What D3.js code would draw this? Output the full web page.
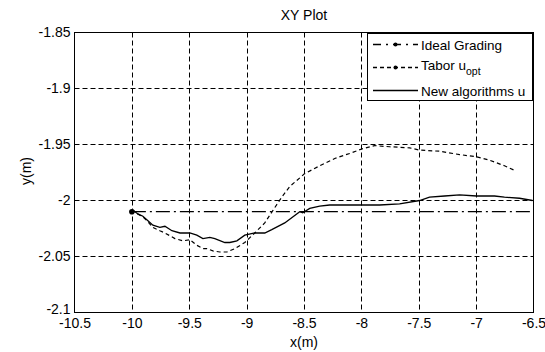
<!DOCTYPE html>
<html>
<head>
<meta charset="utf-8">
<script src="https://cdn.jsdelivr.net/npm/d3@7/dist/d3.min.js"></script>
<style>
  html, body { margin: 0; padding: 0; background: #fff; }
  svg { display: block; font-family: "Liberation Sans", Arial, sans-serif; }
</style>
</head>
<body>
<svg id="chart" width="545" height="352"></svg>
<script>
// ---- data ----
const xTicks = [-10.5, -10, -9.5, -9, -8.5, -8, -7.5, -7, -6.5];
const yTicks = [-1.85, -1.9, -1.95, -2, -2.05, -2.1];
const xGrid = [-10, -9.5, -9, -8.5, -8, -7.5, -7];
const yGrid = [-1.9, -1.95, -2, -2.05];

const idealX = [-10, -6.5];
const idealY = [-2.01, -2.01];

const taborX = [-10, -9.95, -9.9, -9.86, -9.817, -9.756, -9.712, -9.625, -9.555, -9.495, -9.434, -9.381, -9.347, -9.294, -9.233, -9.172, -9.103, -9.016, -8.929, -8.842, -8.772, -8.694, -8.624, -8.494, -8.363, -8.232, -8.102, -7.997, -7.884, -7.754, -7.579, -7.493, -7.319, -7.144, -6.996, -6.883, -6.753, -6.666];
const taborY = [-2.008, -2.012, -2.015, -2.019, -2.024, -2.027, -2.029, -2.034, -2.036, -2.035, -2.040, -2.043, -2.043, -2.045, -2.046, -2.046, -2.043, -2.0375, -2.029, -2.020, -2.009, -1.997, -1.9875, -1.976, -1.969, -1.9625, -1.958, -1.954, -1.951, -1.952, -1.953, -1.955, -1.956, -1.959, -1.961, -1.964, -1.969, -1.973];

const newX = [-10, -9.947, -9.904, -9.86, -9.817, -9.756, -9.712, -9.651, -9.581, -9.495, -9.434, -9.381, -9.32, -9.277, -9.19, -9.146, -9.085, -9.016, -8.929, -8.842, -8.781, -8.668, -8.537, -8.511, -8.45, -8.363, -8.276, -8.102, -7.841, -7.667, -7.493, -7.406, -7.275, -7.144, -6.996, -6.84, -6.753, -6.622, -6.509];
const newY = [-2.008, -2.012, -2.014, -2.018, -2.022, -2.024, -2.023, -2.027, -2.029, -2.029, -2.031, -2.034, -2.033, -2.034, -2.0375, -2.0375, -2.036, -2.031, -2.029, -2.029, -2.026, -2.020, -2.010, -2.011, -2.007, -2.005, -2.004, -2.004, -2.004, -2.003, -2.000, -1.997, -1.996, -1.995, -1.996, -1.996, -1.997, -1.998, -2.000];

const legendLabels = ["Ideal Grading", "Tabor u", "New algorithms u"];

// ---- chart ----
const svg = d3.select("#chart");
const L = 74.5, R = 533.5, T = 32.5, B = 312.5;
const x = d3.scaleLinear().domain([-10.5, -6.5]).range([L, R]);
const y = d3.scaleLinear().domain([-2.1, -1.85]).range([B, T]);
const FONT = '"Liberation Sans", Arial, sans-serif';

svg.append("rect").attr("width", 545).attr("height", 352).attr("fill", "#fff");

// grid
const g = svg.append("g");
g.selectAll("line.vg").data(xGrid).enter().append("line")
  .attr("x1", d => Math.round(x(d)) + 0.5).attr("x2", d => Math.round(x(d)) + 0.5)
  .attr("y1", T).attr("y2", B)
  .attr("stroke", "#000").attr("stroke-width", 1).attr("stroke-dasharray", "5,3");
g.selectAll("line.hg").data(yGrid).enter().append("line")
  .attr("y1", d => Math.round(y(d)) + 0.5).attr("y2", d => Math.round(y(d)) + 0.5)
  .attr("x1", L).attr("x2", R)
  .attr("stroke", "#000").attr("stroke-width", 1).attr("stroke-dasharray", "5,3");

// axes
const xAxis = d3.axisBottom(x).tickValues(xTicks).tickSize(0).tickPadding(6).tickFormat(d => String(d));
const yAxis = d3.axisLeft(y).tickValues(yTicks).tickSize(0).tickPadding(4).tickFormat(d => String(d));
const gx = svg.append("g").attr("transform", `translate(0,${B})`).call(xAxis);
const gy = svg.append("g").attr("transform", `translate(${L},0)`).call(yAxis);
[gx, gy].forEach(a => {
  a.select(".domain").remove();
  a.selectAll("text").attr("font-size", 14).attr("fill", "#000").attr("font-family", FONT);
});
// lift the bottom-most y label a touch so it clears the first x label
gy.selectAll(".tick").filter(d => d === -2.1).select("text").attr("dy", "0.1em");

// data lines
const line = d3.line().x(d => x(d[0])).y(d => y(d[1]));
const zip = (a, b) => a.map((v, i) => [v, b[i]]);

svg.append("path").datum(zip(idealX, idealY)).attr("d", line)
  .attr("fill", "none").attr("stroke", "#000").attr("stroke-width", 1.3)
  .attr("stroke-dasharray", "14,4,2,4");
svg.append("path").datum(zip(taborX, taborY)).attr("d", line)
  .attr("fill", "none").attr("stroke", "#000").attr("stroke-width", 1.2)
  .attr("stroke-dasharray", "4,3");
svg.append("path").datum(zip(newX, newY)).attr("d", line)
  .attr("fill", "none").attr("stroke", "#000").attr("stroke-width", 1.3);
svg.append("circle").attr("cx", x(idealX[0])).attr("cy", y(idealY[0])).attr("r", 2.8).attr("fill", "#000");

// frame
svg.append("rect").attr("x", L).attr("y", T).attr("width", R - L).attr("height", B - T)
  .attr("fill", "none").attr("stroke", "#000").attr("stroke-width", 1);

// title & labels
svg.append("text").attr("x", 304).attr("y", 20).attr("text-anchor", "middle")
  .attr("font-size", 14).attr("fill", "#000").text("XY Plot");
svg.append("text").attr("x", 304).attr("y", 347).attr("text-anchor", "middle")
  .attr("font-size", 14).attr("fill", "#000").text("x(m)");
svg.append("text").attr("transform", "translate(31,171) rotate(-90)").attr("text-anchor", "middle")
  .attr("font-size", 14).attr("fill", "#000").text("y(m)");

// legend
const lg = svg.append("g");
lg.append("rect").attr("x", 367.5).attr("y", 33.5).attr("width", 165).attr("height", 67)
  .attr("fill", "#fff").attr("stroke", "#000").attr("stroke-width", 1);
const rowsY = [44.5, 67.5, 90.5];
const dashes = ["8,5,2,5", "4,3", null];
legendLabels.forEach((lab, i) => {
  const ln = lg.append("line").attr("x1", 373).attr("x2", 418).attr("y1", rowsY[i]).attr("y2", rowsY[i])
    .attr("stroke", "#000").attr("stroke-width", 1.3);
  if (dashes[i]) ln.attr("stroke-dasharray", dashes[i]);
  if (i < 2) lg.append("circle").attr("cx", 395.5).attr("cy", rowsY[i]).attr("r", 2).attr("fill", "#000");
  const t = lg.append("text").attr("x", 421).attr("y", rowsY[i] + 5)
    .attr("font-size", 13.5).attr("fill", "#000");
  if (i === 1) {
    t.attr("y", rowsY[i] + 2.5).text(lab);
    t.append("tspan").attr("dy", 5).attr("font-size", 10.5).text("opt");
  } else {
    t.text(lab);
  }
});
</script>
</body>
</html>
